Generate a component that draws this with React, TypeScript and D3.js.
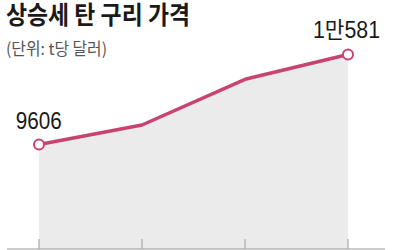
import React from "react";
import * as d3 from "d3";

const periods = ["p1", "p2", "p3", "p4"];
const prices = [9606, 9817, 10312, 10581];
const labelFirst = "9606";
const labelLast = "1만581";
const title = "상승세 탄 구리 가격";
const subtitle = "(단위: t당 달러)";

const W = 400;
const H = 250;
const LINE = "#c8446e";

export default function App() {
  const x = d3.scalePoint<string>().domain(periods).range([39, 348]);
  const y = d3.scaleLinear().domain([8474, 10738]).range([249, 40]);
  const line = d3
    .line<number>()
    .x((_, i) => x(periods[i]) as number)
    .y((d) => y(d));
  const area = d3
    .area<number>()
    .x((_, i) => x(periods[i]) as number)
    .y0(249)
    .y1((d) => y(d));
  const ticks = [...periods.map((p) => x(p) as number)];
  const last = prices.length - 1;
  return (
    <svg
      width={W}
      height={H}
      style={{ position: "absolute", left: 0, top: 0, background: "#fff" }}
    >
      <text
        x={6}
        y={24}
        fontFamily="'Noto Sans CJK KR', sans-serif"
        fontWeight={700}
        fontSize={25}
        fill="#1a1a1a"
        textLength={184}
        lengthAdjust="spacingAndGlyphs"
      >
        {title}
      </text>
      <text
        x={6}
        y={54.5}
        fontFamily="'Noto Sans CJK KR', sans-serif"
        fontSize={16.5}
        fill="#555"
        textLength={101}
        lengthAdjust="spacingAndGlyphs"
      >
        {subtitle}
      </text>
      <path d={area(prices) || ""} fill="#ebebeb" />
      <line x1={7} x2={385} y1={249} y2={249} stroke="#9a9a9a" strokeWidth={1.2} />
      {ticks.map((t, i) => (
        <line key={i} x1={t} x2={t} y1={239} y2={249} stroke="#aaa" strokeWidth={1.2} />
      ))}
      <path d={line(prices) || ""} fill="none" stroke={LINE} strokeWidth={3.5} strokeLinejoin="round" />
      {[0, last].map((i) => (
        <circle
          key={i}
          cx={x(periods[i]) as number}
          cy={y(prices[i])}
          r={5}
          fill="#fff"
          stroke={LINE}
          strokeWidth={2}
        />
      ))}
      <text
        x={15.7}
        y={129}
        fontFamily="'Liberation Sans', 'Noto Sans CJK KR', sans-serif"
        fontSize={23}
        fill="#1a1a1a"
        textLength={46}
        lengthAdjust="spacingAndGlyphs"
      >
        {labelFirst}
      </text>
      <text
        x={313}
        y={38.3}
        fontFamily="'Liberation Sans', 'Noto Sans CJK KR', sans-serif"
        fontSize={23}
        fill="#1a1a1a"
        textLength={67}
        lengthAdjust="spacingAndGlyphs"
      >
        {labelLast}
      </text>
    </svg>
  );
}
